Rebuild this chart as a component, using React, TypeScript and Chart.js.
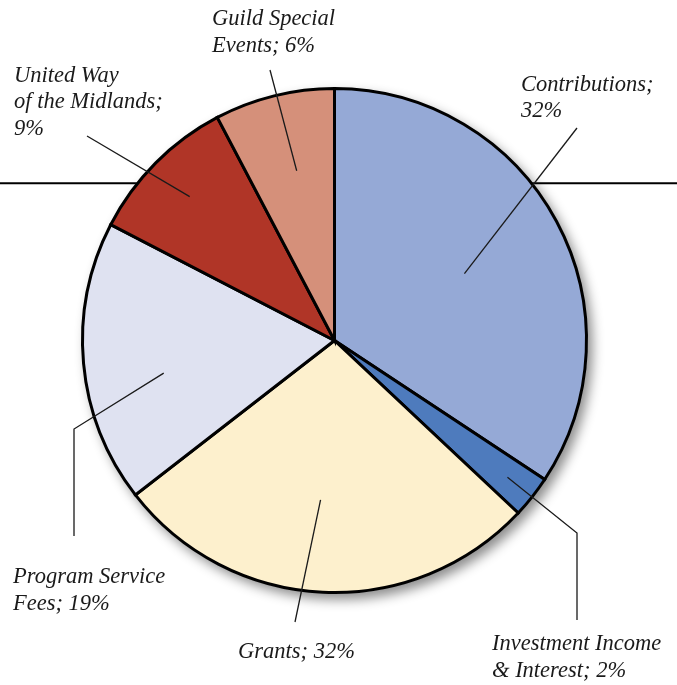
import React, { useEffect, useRef } from "react";
import { Chart, registerables } from "chart.js";

Chart.register(...registerables);

const categories = [
  "Contributions",
  "Investment Income & Interest",
  "Grants",
  "Program Service Fees",
  "United Way of the Midlands",
  "Guild Special Events",
];
const values = [34.3, 2.7, 27.5, 18.1, 9.7, 7.7];
const labelLines = [
  ["Contributions;", "32%"],
  ["Investment Income", "& Interest; 2%"],
  ["Grants; 32%"],
  ["Program Service", "Fees; 19%"],
  ["United Way", "of the Midlands;", "9%"],
  ["Guild Special", "Events; 6%"],
];
const colors = ["#95a9d6", "#4e7bbd", "#fdf0cd", "#dfe2f1", "#b03527", "#d5907a"];

// annotation layout (label text anchor, leader path, leader inner point inside slice)
const labelLayout = [
  { x: 521, ys: [91, 117], path: [[577, 128]], frac: 0.58, dAng: 1 },
  { x: 492, ys: [650, 677], path: [[577, 533], [577, 620]], frac: 0.875, dAng: 0 },
  { x: 238, ys: [658], path: [[295, 622]], frac: 0.635, dAng: 2.3 },
  { x: 13, ys: [583, 610], path: [[74, 429], [74, 536]], frac: 0.69, dAng: -5.6 },
  { x: 14, ys: [82, 108, 135], path: [[87, 136]], frac: 0.81, dAng: 0 },
  { x: 212, ys: [25, 52], path: [[270, 70]], frac: 0.69, dAng: 1.3 },
];

const FONT = "italic 22.5px 'Liberation Serif', 'Times New Roman', serif";

const decorPlugin = {
  id: "decor",
  beforeDatasetsDraw(chart: any) {
    const ctx = chart.ctx;
    const meta = chart.getDatasetMeta(0);
    const a0 = meta.data[0];
    if (!a0) return;
    const { x, y, outerRadius } = a0.getProps(["x", "y", "outerRadius"], true);
    ctx.save();
    // horizontal rule behind the pie
    ctx.strokeStyle = "#000";
    ctx.lineWidth = 2;
    ctx.beginPath();
    ctx.moveTo(0, 183.3);
    ctx.lineTo(chart.width, 183.3);
    ctx.stroke();
    // drop shadow
    ctx.fillStyle = "#ffffff";
    ctx.shadowColor = "rgba(0,0,0,0.45)";
    ctx.shadowBlur = 12;
    ctx.shadowOffsetX = 5;
    ctx.shadowOffsetY = 6;
    ctx.beginPath();
    ctx.arc(x, y, outerRadius + 1, 0, Math.PI * 2);
    ctx.fill();
    ctx.restore();
  },
  afterDatasetsDraw(chart: any) {
    const ctx = chart.ctx;
    const meta = chart.getDatasetMeta(0);
    ctx.save();
    ctx.strokeStyle = "#1a1a1a";
    ctx.lineWidth = 1.3;
    ctx.fillStyle = "#1a1a1a";
    ctx.font = FONT;
    ctx.textBaseline = "alphabetic";
    ctx.textAlign = "left";
    meta.data.forEach((arc: any, i: number) => {
      const L = labelLayout[i];
      const { x, y, startAngle, endAngle, outerRadius } = arc.getProps(
        ["x", "y", "startAngle", "endAngle", "outerRadius"],
        true
      );
      const a = (startAngle + endAngle) / 2 + (L.dAng * Math.PI) / 180;
      const px = x + Math.cos(a) * outerRadius * L.frac;
      const py = y + Math.sin(a) * outerRadius * L.frac;
      ctx.beginPath();
      ctx.moveTo(px, py);
      L.path.forEach((p) => ctx.lineTo(p[0], p[1]));
      ctx.stroke();
      labelLines[i].forEach((t, k) => ctx.fillText(t, L.x, L.ys[k]));
    });
    ctx.restore();
  },
};

export default function App() {
  const ref = useRef<HTMLCanvasElement | null>(null);
  useEffect(() => {
    document.body.style.margin = "0";
    const chart = new Chart(ref.current as HTMLCanvasElement, {
      type: "pie",
      data: {
        labels: categories,
        datasets: [
          {
            data: values,
            backgroundColor: colors,
            borderColor: "#000",
            borderWidth: 3,
            borderJoinStyle: "miter",
          } as any,
        ],
      },
      options: {
        responsive: false,
        animation: false,
        devicePixelRatio: 1,
        radius: 252,
        layout: { padding: { left: 0, right: 8, top: 0, bottom: 4 } },
        plugins: {
          legend: { display: false },
          tooltip: { enabled: false },
        },
      } as any,
      plugins: [decorPlugin],
    });
    return () => chart.destroy();
  }, []);
  return (
    <div style={{ width: 677, height: 685, background: "#fff" }}>
      <canvas ref={ref} width={677} height={685} />
    </div>
  );
}
